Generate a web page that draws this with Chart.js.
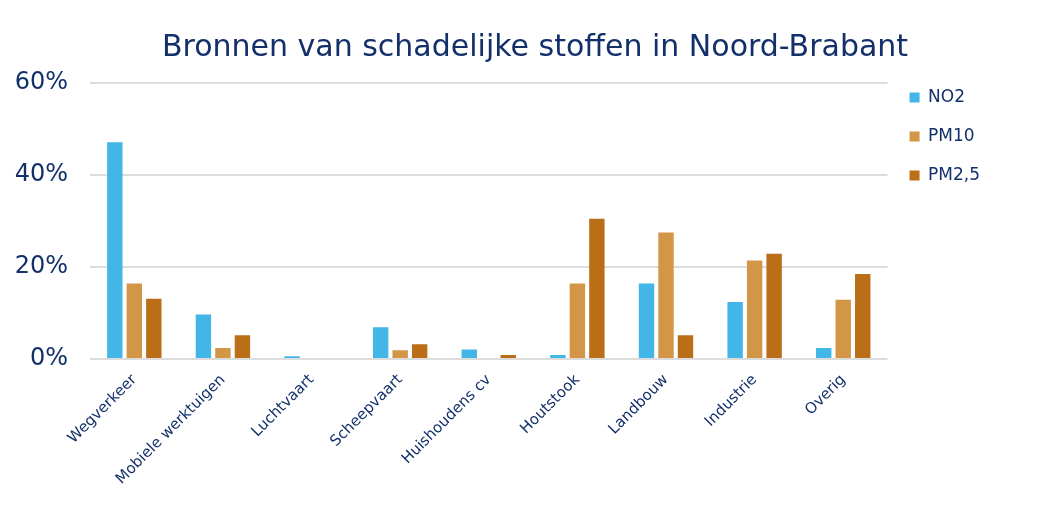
<!DOCTYPE html>
<html>
<head>
<meta charset="utf-8">
<script src="https://cdn.jsdelivr.net/npm/chart.js@4/dist/chart.umd.min.js"></script>
<style>
  html, body { margin: 0; padding: 0; background: #fff; }
  #wrap { width: 1048px; height: 526px; }
</style>
</head>
<body>
<div id="wrap"><canvas id="chart"></canvas></div>
<script>
// Data (percent of total emissions per source)
const categories = ['Wegverkeer', 'Mobiele werktuigen', 'Luchtvaart', 'Scheepvaart', 'Huishoudens cv', 'Houtstook', 'Landbouw', 'Industrie', 'Overig'];
const no2 = [47.1, 9.7, 0.6, 6.9, 2.1, 0.9, 16.4, 12.4, 2.4];
const pm10 = [16.4, 2.4, 0, 1.9, 0, 16.4, 27.5, 21.4, 12.9];
const pm25 = [13.1, 5.2, 0, 3.2, 0.9, 30.5, 5.2, 22.9, 18.5];
const yTicks = [0, 20, 40, 60];

const navy = '#13306a';
const font = 'DejaVu Sans, Verdana, sans-serif';

// nudge title and legend to where the original puts them
const placeBoxes = {
    id: 'placeBoxes',
    afterLayout(chart) {
        chart.titleBlock.left += 80;
        chart.legend.top += 67;
        chart.legend.bottom += 67;
    }
};

const ctx = document.getElementById('chart').getContext('2d');

new Chart(ctx, {
    type: 'bar',
    data: {
        labels: categories,
        datasets: [
            { label: 'NO2', data: no2, backgroundColor: '#42b6e6' },
            { label: 'PM10', data: pm10, backgroundColor: '#d39546' },
            { label: 'PM2,5', data: pm25, backgroundColor: '#b96e17' }
        ]
    },
    plugins: [placeBoxes],
    options: {
        responsive: true,
        maintainAspectRatio: false,
        animation: false,
        datasets: {
            bar: { categoryPercentage: 0.66, barPercentage: 0.79 }
        },
        layout: { padding: { left: 0, right: 58, top: 0, bottom: 34 } },
        scales: {
            x: {
                grid: { display: false },
                border: { display: false },
                ticks: {
                    color: navy,
                    font: { family: font, size: 15 },
                    minRotation: 45,
                    maxRotation: 45,
                    padding: 4
                }
            },
            y: {
                min: 0,
                max: 60,
                afterBuildTicks: function (axis) {
                    axis.ticks = yTicks.map(v => ({ value: v }));
                },
                afterFit: function (axis) {
                    axis.width = 90;
                },
                grid: { color: '#dcdcdc', lineWidth: 2, drawTicks: false },
                border: { display: false },
                ticks: {
                    color: navy,
                    font: { family: font, size: 24 },
                    padding: 22,
                    callback: v => v + '%'
                }
            }
        },
        plugins: {
            title: {
                display: true,
                text: 'Bronnen van schadelijke stoffen in Noord-Brabant',
                color: navy,
                font: { family: font, size: 30, weight: 'normal' },
                padding: { top: 30, bottom: 17 }
            },
            legend: {
                position: 'right',
                align: 'start',
                labels: {
                    color: navy,
                    font: { family: font, size: 17 },
                    boxWidth: 10,
                    boxHeight: 10,
                    padding: 22
                }
            },
            tooltip: { enabled: false }
        }
    }
});
</script>
</body>
</html>
